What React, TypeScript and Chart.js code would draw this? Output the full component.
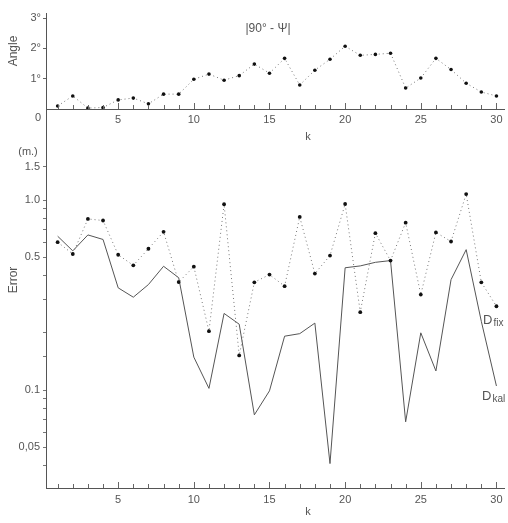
import React, { useEffect, useRef } from "react";
import { Chart, registerables } from "chart.js";
Chart.register(...registerables);

// ---- data ----
const kValues = [1, 2, 3, 4, 5, 6, 7, 8, 9, 10, 11, 12, 13, 14, 15, 16, 17, 18, 19, 20, 21, 22, 23, 24, 25, 26, 27, 28, 29, 30];
const angleDeg = [0.1, 0.43, 0.03, 0.05, 0.3, 0.36, 0.17, 0.49, 0.49, 0.98, 1.15, 0.95, 1.1, 1.48, 1.18, 1.67, 0.79, 1.28, 1.64, 2.07, 1.77, 1.8, 1.84, 0.69, 1.02, 1.67, 1.3, 0.85, 0.56, 0.43];
const errorFix = [0.6, 0.52, 0.795, 0.78, 0.515, 0.453, 0.554, 0.68, 0.37, 0.446, 0.204, 0.95, 0.152, 0.369, 0.405, 0.352, 0.815, 0.41, 0.51, 0.953, 0.257, 0.669, 0.48, 0.76, 0.318, 0.675, 0.605, 1.075, 0.369, 0.276];
const errorKal = [0.645, 0.54, 0.655, 0.62, 0.345, 0.308, 0.359, 0.448, 0.39, 0.149, 0.102, 0.253, 0.222, 0.074, 0.099, 0.192, 0.198, 0.225, 0.041, 0.44, 0.45, 0.47, 0.48, 0.068, 0.2, 0.126, 0.381, 0.548, 0.23, 0.105];
const xTickValues = [5, 10, 15, 20, 25, 30];
const angleTickValues = [1, 2, 3];
const angleTickLabels = ["1°", "2°", "3°"];
const errorTickValues = [1.5, 1.0, 0.5, 0.1, 0.05];
const errorTickLabels = ["1.5", "1.0", "0.5", "0.1", "0,05"];
const errorMinorTicks = [0.04, 0.06, 0.07, 0.08, 0.09, 0.15, 0.2, 0.3, 0.4, 0.6, 0.7, 0.8, 0.9];

const FONT = "'Liberation Sans', Arial, sans-serif";
const TEXT = "#555";

type TextItem = { t: string; x: number; y: number; size?: number; rot?: boolean; sub?: string };

function textPlugin(items: TextItem[]) {
  return {
    id: "texts",
    afterDraw(chart: any) {
      const ctx = chart.ctx;
      ctx.save();
      ctx.fillStyle = TEXT;
      ctx.textBaseline = "middle";
      for (const it of items) {
        const size = it.size || 11;
        ctx.font = `${size}px ${FONT}`;
        if (it.rot) {
          ctx.save();
          ctx.translate(it.x, it.y);
          ctx.rotate(-Math.PI / 2);
          ctx.textAlign = "center";
          ctx.fillText(it.t, 0, 0);
          ctx.restore();
        } else if (it.sub) {
          ctx.textAlign = "left";
          ctx.fillText(it.t, it.x, it.y);
          const w = ctx.measureText(it.t).width;
          ctx.font = `${size - 3}px ${FONT}`;
          ctx.fillText(it.sub, it.x + w + 1, it.y + 3);
        } else {
          ctx.textAlign = "center";
          ctx.fillText(it.t, it.x, it.y);
        }
      }
      ctx.restore();
    },
  };
}

const innerTicks = {
  id: "innerTicks",
  afterDraw(chart: any) {
    const { ctx, chartArea } = chart;
    const x = chart.scales.x;
    ctx.save();
    ctx.strokeStyle = "#666";
    ctx.lineWidth = 1;
    for (const k of kValues) {
      const px = Math.round(x.getPixelForValue(k)) + 0.5;
      const len = k % 5 === 0 ? 6 : 4;
      ctx.beginPath();
      ctx.moveTo(px, chartArea.bottom);
      ctx.lineTo(px, chartArea.bottom - len);
      ctx.stroke();
    }
    ctx.restore();
  },
};

function xScale(padding: number) {
  return {
    type: "linear",
    min: 0.23,
    max: 30.5,
    afterFit: (s: any) => {},
    afterBuildTicks: (s: any) => {
      s.ticks = xTickValues.map((v) => ({ value: v }));
    },
    ticks: { color: TEXT, font: { family: FONT, size: 11 }, padding, callback: (v: any) => String(v), maxRotation: 0, autoSkip: false },
    grid: { drawOnChartArea: false, drawTicks: false },
    border: { display: true, color: "#555", width: 1 },
  };
}

export default function App() {
  const topRef = useRef<HTMLCanvasElement>(null);
  const botRef = useRef<HTMLCanvasElement>(null);

  useEffect(() => {
    const topX: any = xScale(4);
    topX.afterFit = (s: any) => { s.height = 36; };
    const top = new Chart(topRef.current!, {
      type: "line",
      data: {
        datasets: [
          {
            data: kValues.map((k, i) => ({ x: k, y: angleDeg[i] })),
            borderColor: "#777",
            borderWidth: 1,
            borderDash: [1, 3],
            pointRadius: 1.8,
            pointBackgroundColor: "#111",
            pointBorderWidth: 0,
            tension: 0,
          },
        ],
      },
      options: {
        responsive: false,
        animation: false,
        layout: { padding: { top: 13, right: 4, left: 0, bottom: 0 } },
        plugins: { legend: { display: false }, tooltip: { enabled: false } },
        scales: {
          x: topX,
          y: {
            type: "linear",
            min: 0,
            max: 3.165,
            afterFit: (s: any) => { s.width = 46; },
            afterBuildTicks: (s: any) => {
              s.ticks = angleTickValues.map((v) => ({ value: v }));
            },
            ticks: {
              color: TEXT,
              font: { family: FONT, size: 11 },
              padding: 2,
              callback: (v: any) => angleTickLabels[angleTickValues.indexOf(v)] ?? "",
            },
            grid: { drawOnChartArea: false, drawTicks: true, tickLength: 3, color: "#666" },
            border: { display: true, color: "#555", width: 1 },
          },
        },
      } as any,
      plugins: [
        innerTicks,
        textPlugin([
          { t: "|90° - Ψ|", x: 268, y: 29, size: 12 },
          { t: "0", x: 38, y: 118 },
          { t: "k", x: 308, y: 137 },
          { t: "Angle", x: 14, y: 51, rot: true, size: 12 },
        ]),
      ],
    });

    const botX: any = xScale(5);
    botX.afterFit = (s: any) => { s.height = 35; };
    const allErrTicks = [...errorTickValues, ...errorMinorTicks].sort((a, b) => a - b);
    const bot = new Chart(botRef.current!, {
      type: "line",
      data: {
        datasets: [
          {
            data: kValues.map((k, i) => ({ x: k, y: errorFix[i] })),
            borderColor: "#777",
            borderWidth: 1,
            borderDash: [1, 3],
            pointRadius: 1.9,
            pointBackgroundColor: "#111",
            pointBorderWidth: 0,
            tension: 0,
          },
          {
            data: kValues.map((k, i) => ({ x: k, y: errorKal[i] })),
            borderColor: "#555",
            borderWidth: 1,
            pointRadius: 0,
            tension: 0,
          },
        ],
      },
      options: {
        responsive: false,
        animation: false,
        layout: { padding: { top: 10, right: 4, left: 0, bottom: 0 } },
        plugins: { legend: { display: false }, tooltip: { enabled: false } },
        scales: {
          x: botX,
          y: {
            type: "logarithmic",
            min: 0.0305,
            max: 2.977,
            afterFit: (s: any) => { s.width = 46; },
            afterBuildTicks: (s: any) => {
              s.ticks = allErrTicks.map((v) => ({ value: v }));
            },
            ticks: {
              color: TEXT,
              font: { family: FONT, size: 11 },
              padding: 3,
              autoSkip: false,
              callback: (v: any) => {
                const i = errorTickValues.indexOf(v);
                return i >= 0 ? errorTickLabels[i] : "";
              },
            },
            grid: { drawOnChartArea: false, drawTicks: true, tickLength: 3, color: "#777" },
            border: { display: true, color: "#555", width: 1 },
          },
        },
      } as any,
      plugins: [
        innerTicks,
        textPlugin([
          { t: "(m.)", x: 28, y: 52 },
          { t: "Error", x: 14, y: 180, rot: true, size: 12 },
          { t: "k", x: 308, y: 412 },
          { t: "D", x: 483, y: 220, size: 13, sub: "fix" },
          { t: "D", x: 482, y: 296, size: 13, sub: "kal" },
        ]),
      ],
    });

    return () => {
      top.destroy();
      bot.destroy();
    };
  }, []);

  return (
    <div style={{ position: "absolute", left: 0, top: 0, width: 508, height: 523, background: "#fff", overflow: "hidden" }}>
      <canvas ref={botRef} width={508} height={423} style={{ position: "absolute", left: 0, top: 100, width: 508, height: 423 }} />
      <canvas ref={topRef} width={508} height={145} style={{ position: "absolute", left: 0, top: 0, width: 508, height: 145 }} />
    </div>
  );
}
